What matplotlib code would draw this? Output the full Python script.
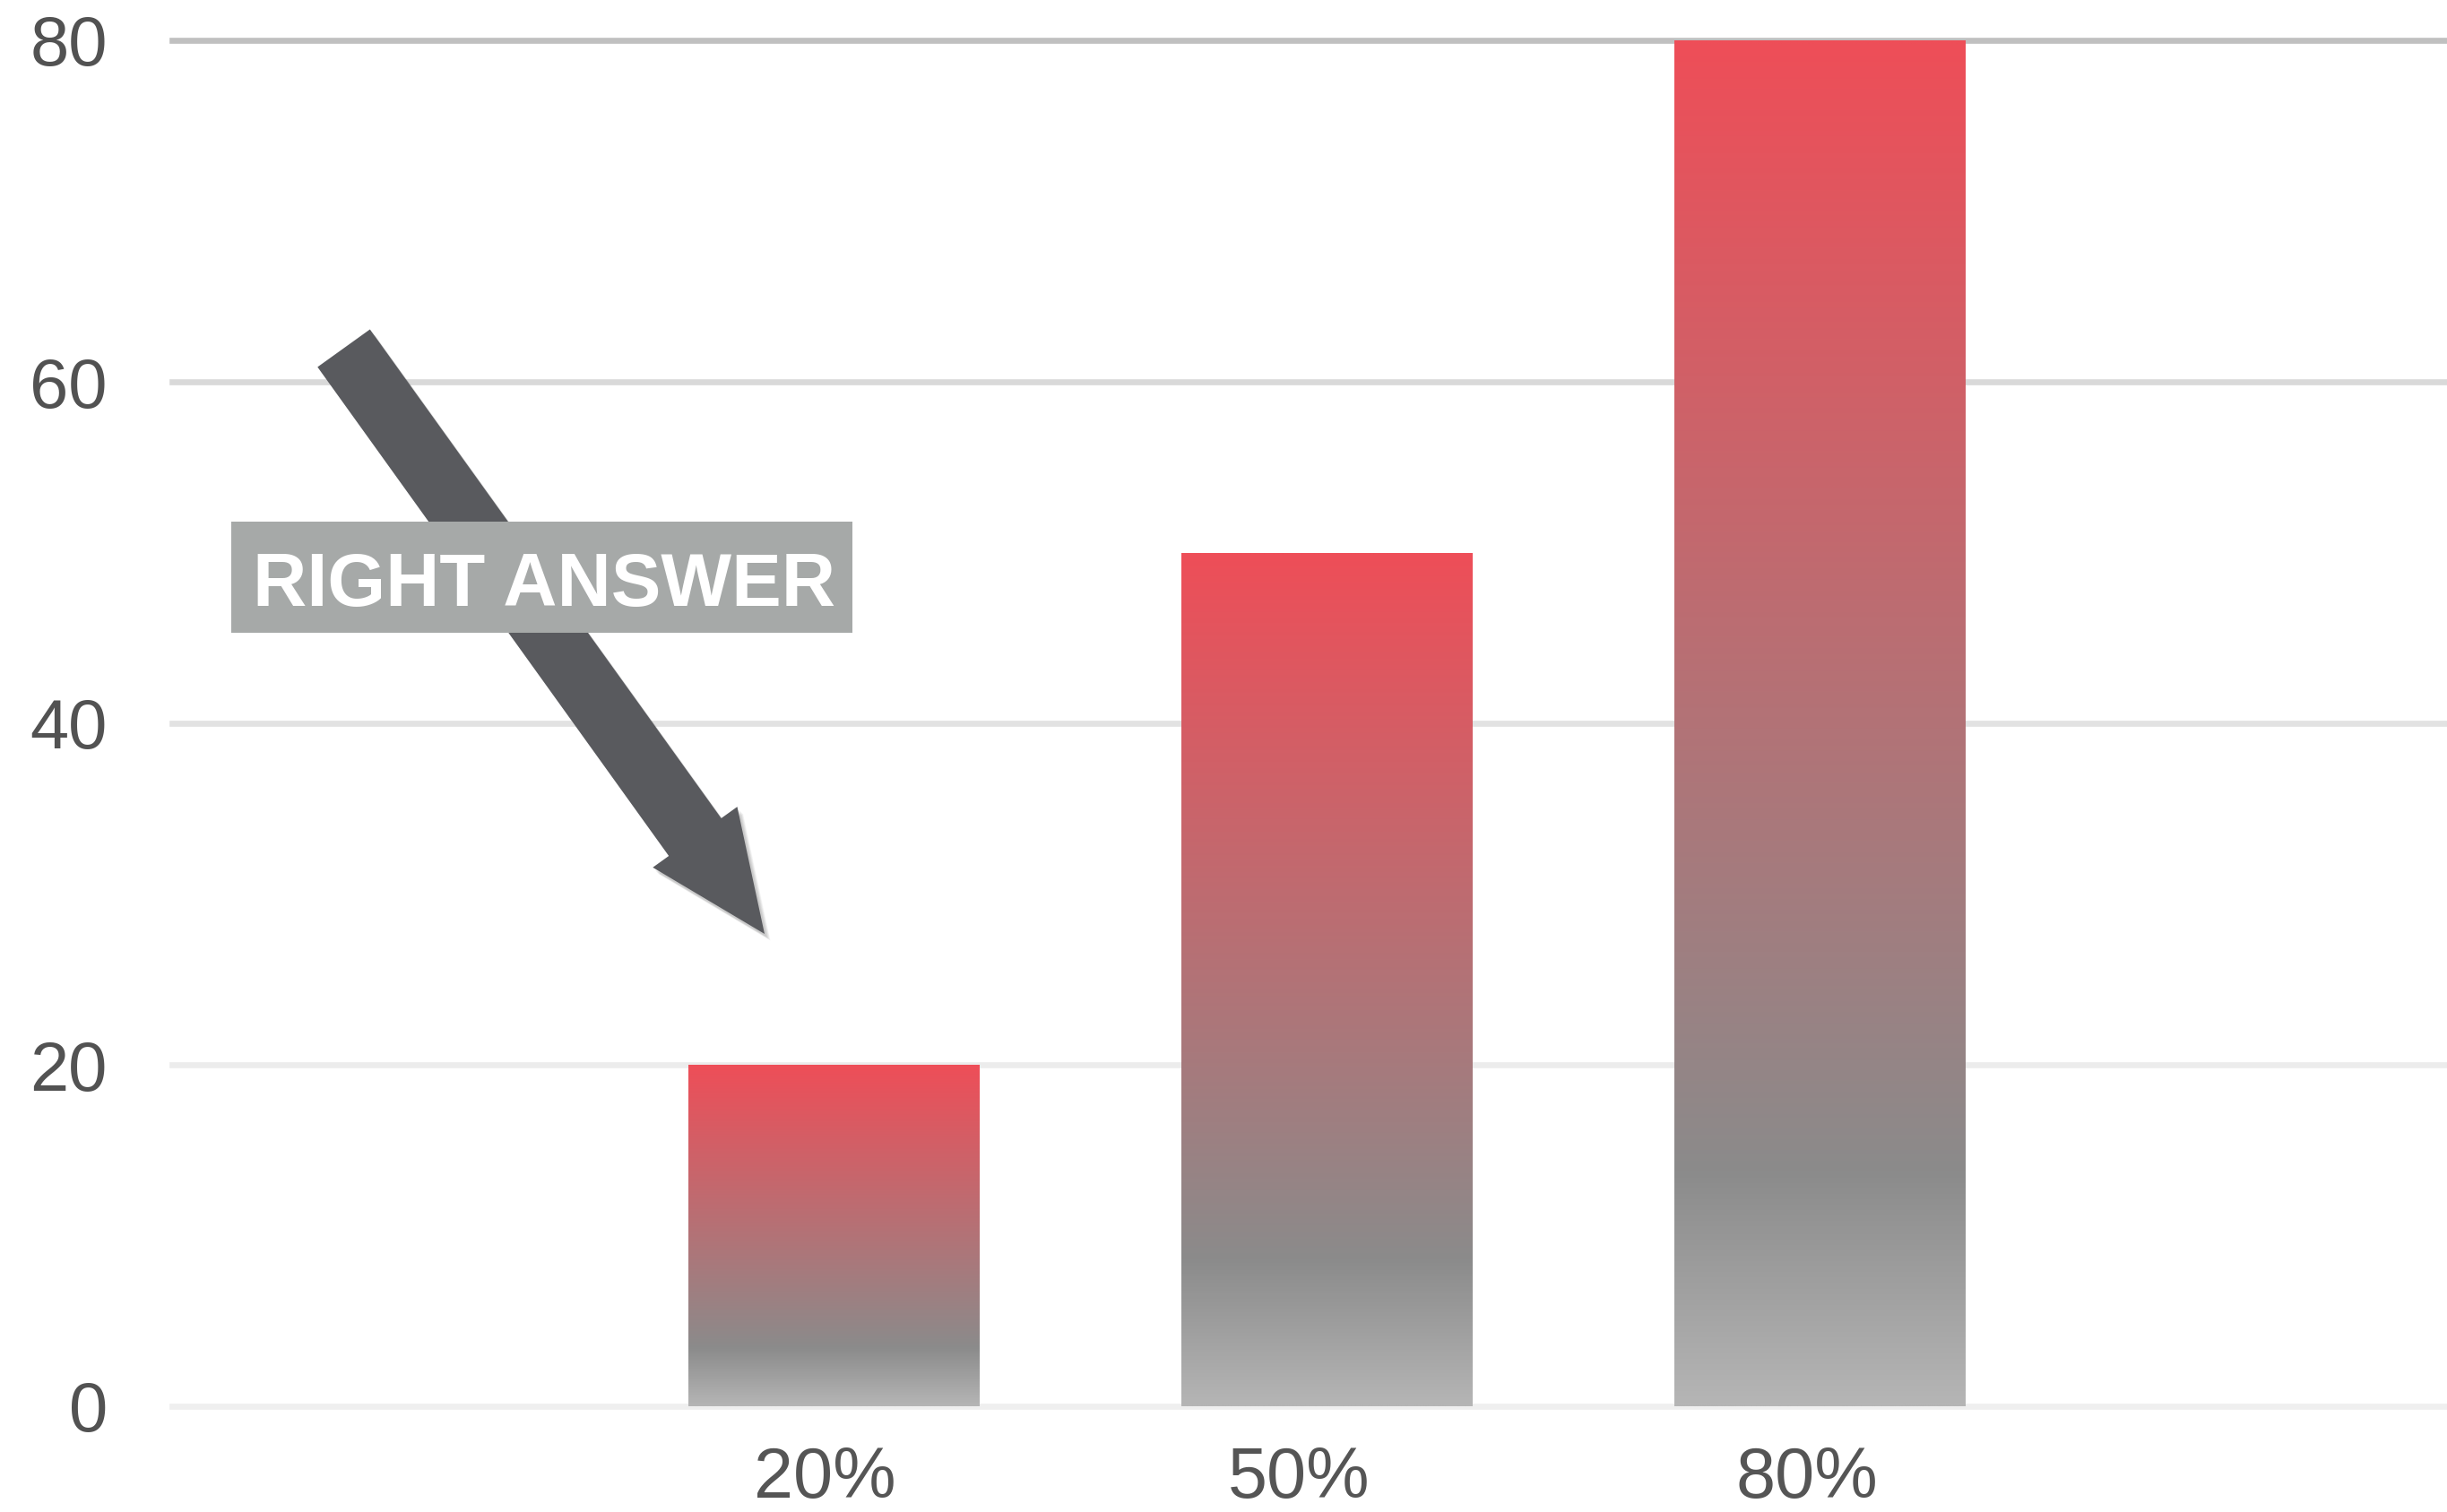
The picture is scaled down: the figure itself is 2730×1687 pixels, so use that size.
import numpy as np
import matplotlib
matplotlib.use('Agg')
import matplotlib.pyplot as plt
from matplotlib.colors import LinearSegmentedColormap
import matplotlib.transforms as mtransforms
from matplotlib.patches import Polygon, Rectangle

# ---- data ----
categories = ['20%', '50%', '80%']
values = [20, 50, 80]
yticks = [0, 20, 40, 60, 80]
ytick_labels = ['0', '20', '40', '60', '80']
annotation_text = 'RIGHT ANSWER'

# ---- style ----
grid_colors = ['#efefef', '#ececec', '#e2e2e2', '#d9d9d9', '#c0c0c0']
xlabel_dx_px = [-10, -31, -15]
W, H = 2730, 1687

fig = plt.figure(figsize=(W / 100, H / 100), dpi=100)
fig.patch.set_facecolor('white')
ax = fig.add_axes([192 / W, 1 - 1569 / H, 1 - 192 / W, (1569 - 45) / H])

cmap = LinearSegmentedColormap.from_list(
    'barfade', [(0.0, '#b5b5b5'), (0.17, '#8b8b8b'), (1.0, '#ee4e58')])

x = np.arange(len(categories))
bars = ax.bar(x, values, width=0.59, color='none', edgecolor='none', zorder=3)
grad = np.linspace(1, 0, 512).reshape(-1, 1)
for b in bars:
    x0, w, h = b.get_x(), b.get_width(), b.get_height()
    im = ax.imshow(grad, cmap=cmap, vmin=0, vmax=1, extent=[x0, x0 + w, 0, h],
                   aspect='auto', origin='upper', zorder=3, interpolation='bilinear')
    im.set_clip_path(b)

for yv, c in zip(yticks, grid_colors):
    ax.axhline(yv, color=c, lw=4.8, zorder=1, clip_on=False)

ax.set_xlim(-1.343, 3.272)
ax.set_ylim(0, 80)
for s in ax.spines.values():
    s.set_visible(False)
ax.set_yticks(yticks)
ax.set_yticklabels(ytick_labels, fontfamily='Liberation Sans', fontsize=56, color='#525252')
ax.set_xticks(x)
ax.set_xticklabels(categories, fontfamily='Liberation Sans', fontsize=57, color='#555555')
ax.tick_params(axis='y', length=0, pad=52)
ax.tick_params(axis='x', length=0, pad=32)
ax.grid(False)
for lbl, dx in zip(ax.get_xticklabels(), xlabel_dx_px):
    lbl.set_transform(lbl.get_transform() +
                      mtransforms.ScaledTranslation(dx / 100, 0, fig.dpi_scale_trans))

# ---- annotation (pixel coordinates, y downward) ----
pix = mtransforms.Affine2D().scale(0.01, -0.01).translate(0, H / 100) + fig.dpi_scale_trans

tail = np.array([383.5, 388.5])
tip = np.array([853.0, 1042.0])
shaft_hw, head_hw, head_len = 36.0, 58.0, 133.0
u = (tip - tail) / np.linalg.norm(tip - tail)
n = np.array([-u[1], u[0]])
base = tip - u * head_len
pts = np.array([
    tail + n * shaft_hw,
    base + n * shaft_hw,
    base + n * head_hw,
    tip,
    base - n * head_hw,
    base - n * shaft_hw,
    tail - n * shaft_hw,
])
for k in range(1, 6):
    sh = Polygon(pts + np.array([1.5 + k, 2.5 + k]), closed=True, transform=pix,
                 facecolor='black', edgecolor='none', alpha=0.045, zorder=5)
    fig.add_artist(sh)
fig.add_artist(Polygon(pts, closed=True, transform=pix, facecolor='#595a5e',
                       edgecolor='none', zorder=6))

fig.add_artist(Rectangle((258, 582), 693, 124, transform=pix, facecolor='#a6a9a8',
                         edgecolor='none', zorder=7))
fig.text(607, 676, annotation_text, transform=pix, ha='center', va='baseline',
         color='white', fontweight='bold', fontsize=60, family='Liberation Sans', zorder=8)

fig.savefig('out.png', dpi=100, facecolor='white')
